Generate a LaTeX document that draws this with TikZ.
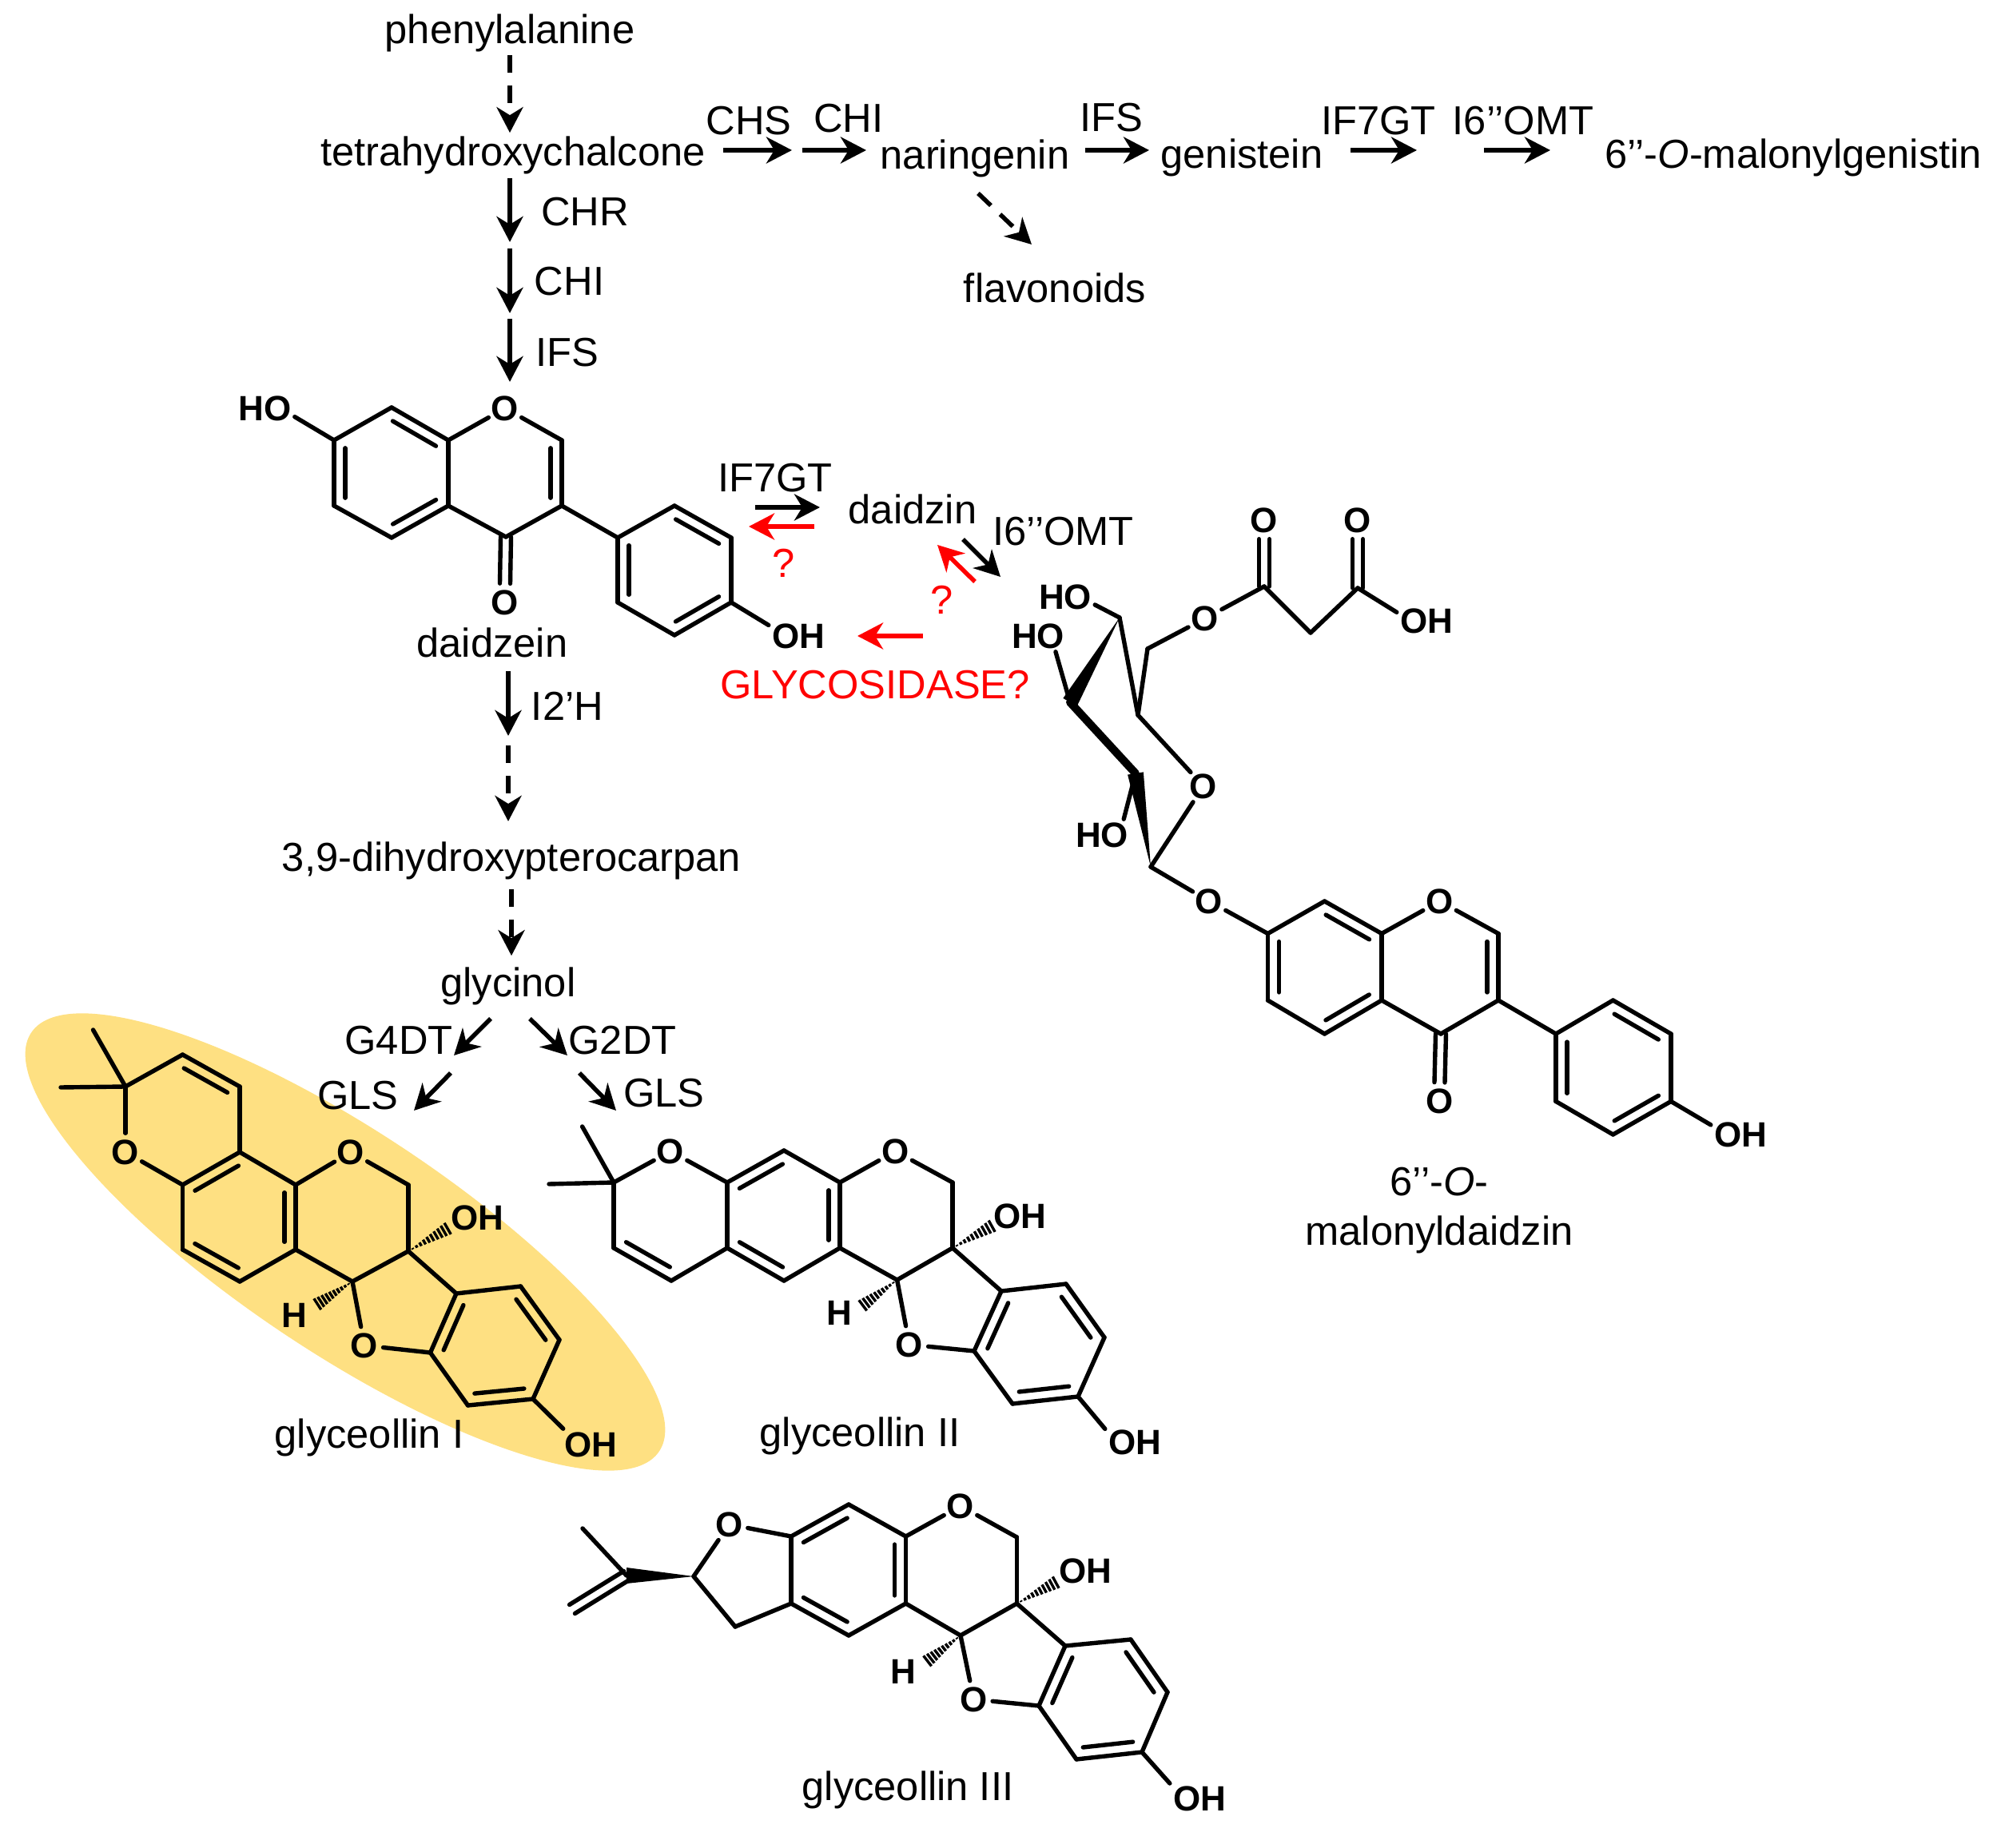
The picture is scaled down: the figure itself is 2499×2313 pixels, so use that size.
\documentclass[tikz,border=0pt]{standalone}
\usepackage{fontspec}
\setmainfont{Liberation Sans}
\usetikzlibrary{arrows.meta, calc, positioning, shapes.geometric}
\definecolor{highlight}{RGB}{254,224,130}

\newcommand{\labelfont}{\fontsize{14.4pt}{17.4pt}\selectfont}
\newcommand{\atomfont}{\bfseries\fontsize{12.5pt}{14pt}\selectfont}

\tikzset{
	txt/.style={inner sep=1pt, font=\labelfont},
	redtxt/.style={txt, text=red},
	atom/.style={circle, inner sep=0pt, font=\atomfont},
	group/.style={inner sep=1pt, font=\atomfont},
	bond/.style={line width=0.054cm, line cap=round},
	hashline/.style={line width=0.034cm},
	rxn/.style={->, line width=0.055cm},
	rxndash/.style={rxn, dash pattern=on 0.22cm off 0.16cm},
	rxnred/.style={rxn, red}
}

% double bond, second line on the left of a -> b
\newcommand{\dbl}[2]{\draw[bond] ($(#1)!0.12!(#2)!0.14cm!90:(#2)$) -- ($(#2)!0.12!(#1)!0.14cm!-90:(#1)$);}
% double bond, two lines around a -- b
\newcommand{\cdbl}[2]{\draw[bond] ($(#1)!0.065cm!90:(#2)$) -- ($(#2)!0.065cm!-90:(#1)$);
	\draw[bond] ($(#1)!0.065cm!-90:(#2)$) -- ($(#2)!0.065cm!90:(#1)$);}
\newcommand{\wedgebond}[2]{\fill (#1) -- ($(#2)!0.1cm!90:(#1)$) -- ($(#2)!0.1cm!-90:(#1)$) -- cycle;}
\newcommand{\hashbond}[2]{\foreach \pos in {0.10,0.19,...,0.98} {
	\pgfmathsetmacro{\hw}{\pos*0.09}
	\draw[hashline] ($(#1)!\pos!(#2)!\hw cm!90:(#2)$) -- ($(#1)!\pos!(#2)!\hw cm!-90:(#2)$);}}

\begin{document}
\begin{tikzpicture}[>={Stealth[length=0.32cm, width=0.33cm, inset=0.1cm]}, x=0.01cm, y=-0.01cm]
	\useasboundingbox (0,0) rectangle (2499,2313);

	% Sfondo di glyceollin I
	\node[ellipse, fill=highlight, minimum width=9.44cm, minimum height=2.76cm, inner sep=0pt, rotate=-33.7] (glyHi) at (432,1554.5) {};

	% --- Nomi e enzimi ---
	\node[txt] (phe) at (638,41) {phenylalanine};
	\node[txt] (tetra) at (642,194) {tetrahydroxychalcone};
	\node[txt] (chs) at (937,151) {CHS};
	\node[txt] (chiA) at (1062,148) {CHI};
	\node[txt] (nar) at (1220,198) {naringenin};
	\node[txt] (ifsA) at (1391,147) {IFS};
	\node[txt] (gen) at (1554,197) {genistein};
	\node[txt] (gtA) at (1725,151) {IF7GT};
	\node[txt] (omtA) at (1906,151) {I6’’OMT};
	\node[txt] (mgen) at (2244,197) {6’’-\emph{O}-malonylgenistin};
	\node[txt] (chr) at (732,265) {CHR};
	\node[txt] (chiB) at (712.5,352) {CHI};
	\node[txt] (ifsB) at (710,441.5) {IFS};
	\node[txt] (flav) at (1320,360) {flavonoids};
	\node[txt] (dzein) at (616,804) {daidzein};
	\node[txt] (gtB) at (970,598) {IF7GT};
	\node[txt] (dzin) at (1142,637) {daidzin};
	\node[txt] (omtB) at (1330.6,665) {I6’’OMT};
	\node[txt] (i2h) at (710,884) {I2’H};
	\node[txt] (dhp) at (640,1077) {3,9-dihydroxypterocarpan};
	\node[txt] (gcl) at (636,1234) {glycinol};
	\node[txt] (g4dt) at (499,1302) {G4DT};
	\node[txt] (g2dt) at (779,1302) {G2DT};
	\node[txt] (glsA) at (448,1371) {GLS};
	\node[txt] (glsB) at (831,1368) {GLS};
	\node[txt] (glyA) at (462,1799) {glyceollin I};
	\node[txt] (glyB) at (1076,1797) {glyceollin II};
	\node[txt] (glyC) at (1136,2240) {glyceollin III};
	\node[txt, align=center] (mdz) at (1801,1515) {6’’-\emph{O}-\\malonyldaidzin};
	\node[redtxt] (qA) at (981,705) {?};
	\node[redtxt] (qB) at (1179,751) {?};
	\node[redtxt] (glc) at (1095,857.5) {GLYCOSIDASE?};

	% --- Frecce ---
	\draw[rxndash] (phe.south) -- (phe.south |- tetra.north);
	\draw[rxndash, shorten <=0.08cm, shorten >=0.1cm] (dhp.south) -- (dhp.south |- gcl.north);
	\foreach \nm/\xa/\ya/\xb/\yb in {
		chrA/638/223/638/303, chiC/638/311/638/392, ifsC/638/399/638/478,
		chsA/905/188/991/188, chiD/1004/188/1084/188, ifsD/1358/188/1438/188,
		gtC/1690/188/1773/188, omtC/1857/188/1940/188, gtD/945/635/1026/635,
		omtD/1205/675/1252/722, i2hA/636/840/636/921,
		g4a/614/1275/568/1321, g4b/564/1343/518/1390,
		g2a/663/1275/710/1321, g2b/725/1343/771/1390} {
		\coordinate (\nm s) at (\xa,\ya);
		\coordinate (\nm e) at (\xb,\yb);
		\draw[rxn] (\nm s) -- (\nm e);
	}
	\foreach \nm/\xa/\ya/\xb/\yb in {narfl/1224/242/1291/306, i2hB/636/933/636/1028} {
		\coordinate (\nm s) at (\xa,\ya);
		\coordinate (\nm e) at (\xb,\yb);
		\draw[rxndash] (\nm s) -- (\nm e);
	}
	\foreach \nm/\xa/\ya/\xb/\yb in {redA/1019/659/937/659, redB/1220/728/1173/682, redC/1155/796/1073/796} {
		\coordinate (\nm s) at (\xa,\ya);
		\coordinate (\nm e) at (\xb,\yb);
		\draw[rxnred] (\nm s) -- (\nm e);
	}

	% --- daidzein ---
	\foreach \n/\x/\y in {d1/418/551, d2/490/510, d3/561/551, d4/703/551, d5/703/633, d6/633/672,
		d7/561/633, d8/490/673, d9/418/633, d10/773/673, d11/844/633, d12/915/673, d13/915/754,
		d14/844/795, d15/773/754}
		\coordinate (\n) at (\x,\y);
	\node[atom] (dO1) at (632,511) {O};
	\node[atom] (dO2) at (632,754) {O};
	\node[group] (dHO) at (331.6,511) {HO};
	\node[group] (dOH) at (999,796) {OH};
	\foreach \a/\b in {d1/d2, d2/d3, d3/dO1, dO1/d4, d4/d5, d5/d6, d6/d7, d7/d3, d7/d8, d8/d9, d9/d1,
		d5/d10, d10/d11, d11/d12, d12/d13, d13/d14, d14/d15, d15/d10, d1/dHO.-16, d13/dOH.160}
		\draw[bond] (\a) -- (\b);
	\dbl{d3}{d2} \dbl{d1}{d9} \dbl{d8}{d7} \dbl{d5}{d4}
	\dbl{d12}{d11} \dbl{d10}{d15} \dbl{d14}{d13}
	\cdbl{d6}{dO2.north}

	% --- glyceollin I ---
	\foreach \n/\x/\y in {a1/157/1360, a2/228.5/1320, a3/300/1360, a4/300/1442, a5/228.5/1483, a6/228.5/1564,
		a7/300/1604, a8/370/1564, a9/370/1483, a10/511/1483, a11/511/1566, a12/441/1604, a13/571/1619,
		a14/651.5/1610, a15/700/1677, a16/667/1751, a17/585.5/1759, a18/538.5/1693,
		aMeA/116.5/1289, aMeB/76/1361, aHa/565/1535, aHb/393/1635}
		\coordinate (\n) at (\x,\y);
	\node[atom] (aO1) at (157,1442) {O};
	\node[atom] (aO2) at (439,1442) {O};
	\node[atom] (aO3) at (456,1684) {O};
	\node[group] (aOHa) at (597,1524) {OH};
	\node[group] (aOHb) at (739,1808) {OH};
	\node[group] (aH) at (368.5,1646) {H};
	\foreach \a/\b in {aMeA/a1, aMeB/a1, a1/a2, a2/a3, a3/a4, a4/a5, a5/a6, a6/a7, a7/a8, a8/a9, a9/a4,
		a1/aO1, aO1/a5, a9/aO2, aO2/a10, a10/a11, a11/a12, a12/a8, a11/a13, a12/aO3, aO3/a18,
		a13/a14, a14/a15, a15/a16, a16/a17, a17/a18, a18/a13, a16/aOHb.150}
		\draw[bond] (\a) -- (\b);
	\dbl{a3}{a2} \dbl{a4}{a5} \dbl{a6}{a7} \dbl{a8}{a9}
	\dbl{a13}{a18} \dbl{a15}{a14} \dbl{a17}{a16}
	\hashbond{a11}{aHa}
	\hashbond{a12}{aHb}

	% --- glyceollin II ---
	\foreach \n/\x/\y in {b1/768/1480, b2/768/1562, b3/840/1603, b4/910/1562, b5/910/1480, b6/981/1440,
		b7/1051/1480, b8/1051/1562, b9/981/1603, b10/1192/1480, b11/1192/1562, b12/1122.6/1602,
		b13/1253/1616, b14/1334/1607, b15/1382/1674, b16/1349/1748, b17/1267/1757, b18/1219/1691,
		bMeA/728.6/1410, bMeB/687/1482, bHa/1246/1532, bHb/1075.5/1637}
		\coordinate (\n) at (\x,\y);
	\node[atom] (bO1) at (839,1441) {O};
	\node[atom] (bO2) at (1120.5,1441) {O};
	\node[atom] (bO3) at (1138,1683) {O};
	\node[group] (bOHa) at (1276,1522) {OH};
	\node[group] (bOHb) at (1420,1805) {OH};
	\node[group] (bH) at (1050,1643) {H};
	\foreach \a/\b in {bMeA/b1, bMeB/b1, b1/b2, b2/b3, b3/b4, b4/b5, b5/bO1, bO1/b1, b5/b6, b6/b7, b7/b8,
		b8/b9, b9/b4, b7/bO2, bO2/b10, b10/b11, b11/b12, b12/b8, b11/b13, b12/bO3, bO3/b18,
		b13/b14, b14/b15, b15/b16, b16/b17, b17/b18, b18/b13, b16/bOHb.156}
		\draw[bond] (\a) -- (\b);
	\dbl{b2}{b3} \dbl{b6}{b5} \dbl{b4}{b9} \dbl{b8}{b7}
	\dbl{b13}{b18} \dbl{b15}{b14} \dbl{b17}{b16}
	\hashbond{b11}{bHa}
	\hashbond{b12}{bHb}

	% --- glyceollin III ---
	\foreach \n/\x/\y in {c1/868/1973, c2/990/1923, c3/1062/1883, c4/1133.5/1923, c5/1272.4/1924, c6/1272.4/2007,
		c7/1202/2047, c8/1133.5/2007, c9/1062/2047, c10/990/2007, c11/920/2036,
		c13/1333/2060, c14/1415/2052, c15/1461/2118, c16/1429/2193, c17/1347/2202, c18/1300/2135,
		cV/784/1972, cMe/729/1913, cCH/716/2014, cHa/1326/1978, cHb/1156.5/2082}
		\coordinate (\n) at (\x,\y);
	\node[atom] (cO1) at (912.5,1908) {O};
	\node[atom] (cO2) at (1202,1885) {O};
	\node[atom] (cO3) at (1218.5,2127) {O};
	\node[group] (cOHa) at (1358.5,1966) {OH};
	\node[group] (cOHb) at (1501,2251) {OH};
	\node[group] (cH) at (1130.6,2092) {H};
	\foreach \a/\b in {cMe/cV, c1/cO1, cO1/c2, c2/c3, c3/c4, c4/c8, c8/c9, c9/c10, c10/c2, c10/c11, c11/c1,
		c4/cO2, cO2/c5, c5/c6, c6/c7, c7/c8, c6/c13, c7/cO3, cO3/c18,
		c13/c14, c14/c15, c15/c16, c16/c17, c17/c18, c18/c13, c16/cOHb.153}
		\draw[bond] (\a) -- (\b);
	\dbl{c3}{c2} \dbl{c10}{c9} \dbl{c8}{c4}
	\dbl{c13}{c18} \dbl{c15}{c14} \dbl{c17}{c16}
	\cdbl{cV}{cCH}
	\wedgebond{c1}{cV}
	\hashbond{c6}{cHa}
	\hashbond{c7}{cHb}

	% --- 6''-O-malonyldaidzin ---
	\foreach \n/\x/\y in {m1/1586.5/1168.5, m2/1657.5/1128, m3/1729/1168.5, m4/1875/1168.5, m5/1875/1252,
		m6/1803/1294, m7/1729/1252, m8/1657.5/1294, m9/1586.5/1252, m10/1947/1294, m11/2018.5/1252,
		m12/2091/1294, m13/2091/1378.5, m14/2018.5/1420, m15/1947/1378.5,
		s1/1440/1085, s2/1421/968, s3/1339/879, s4/1401/773, s5/1424/895, s6/1436/812,
		k1/1582/734, k2/1640/792, k3/1699/736}
		\coordinate (\n) at (\x,\y);
	\node[atom] (mO1) at (1801.5,1128) {O};
	\node[atom] (mO2) at (1801.5,1378.5) {O};
	\node[atom] (mO3) at (1513,1128) {O};
	\node[atom] (sO) at (1506,984) {O};
	\node[atom] (kO) at (1508,774) {O};
	\node[atom] (kO1) at (1582,651) {O};
	\node[atom] (kO2) at (1699,651) {O};
	\node[group] (mOH) at (2178,1420) {OH};
	\node[group] (kOH) at (1785,777) {OH};
	\node[group] (sHOa) at (1333,747) {HO};
	\node[group] (sHOb) at (1299,796) {HO};
	\node[group] (sHOc) at (1379,1045) {HO};
	\foreach \a/\b in {m1/m2, m2/m3, m3/mO1, mO1/m4, m4/m5, m5/m6, m6/m7, m7/m3, m7/m8, m8/m9, m9/m1,
		m5/m10, m10/m11, m11/m12, m12/m13, m13/m14, m14/m15, m15/m10, m13/mOH.162,
		m1/mO3, mO3/s1, s1/sO, sO/s5, s5/s4, s5/s6, s6/kO, kO/k1, k1/k2, k2/k3, k3/kOH.164,
		s4/sHOa.-15, s3/sHOb.-42, s2/sHOc.36}
		\draw[bond] (\a) -- (\b);
	\dbl{m3}{m2} \dbl{m1}{m9} \dbl{m8}{m7} \dbl{m5}{m4}
	\dbl{m12}{m11} \dbl{m10}{m15} \dbl{m14}{m13}
	\cdbl{m6}{mO2.north}
	\cdbl{k1}{kO1.south}
	\cdbl{k3}{kO2.south}
	\wedgebond{s4}{s3}
	\wedgebond{s1}{s2}
	\draw[bond, line width=0.1cm] (s3) -- (s2);
\end{tikzpicture}
\end{document}
